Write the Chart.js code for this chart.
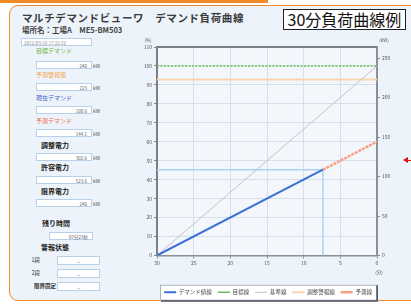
<!DOCTYPE html>
<html>
<head>
<meta charset="utf-8">
<script src="https://cdn.jsdelivr.net/npm/chart.js@4.4.1/dist/chart.umd.min.js"></script>
<style>
  body { margin: 0; width: 411px; height: 305px; overflow: hidden; background: #fff; position: relative;
         font-family: "Noto Sans CJK JP", sans-serif; }
  .abs { position: absolute; line-height: 1; white-space: nowrap; }
  #topbar { left: 0; top: 0; width: 268px; height: 3px; background: #f08a24; }
  #frame { left: 9px; top: 5px; width: 430px; height: 294px; border: 1.5px solid #f08a24; border-radius: 9px; background: #edf3fa; }
  .box { position: absolute; background: #fff; border: 1px solid #b9d0ea; box-sizing: border-box; font-size: 4.5px; color: #555; line-height: 1; }
  #sample { left: 283px; top: 9px; width: 123px; height: 21px; border: 1px solid #222; background: #fff; box-sizing: border-box;
            font-size: 16px; line-height: 19px; text-align: center; color: #111; }
  #wrap { position: absolute; left: 136px; top: 34px; width: 264px; height: 271px; }
</style>
</head>
<body>
<div id="topbar" class="abs"></div>
<div id="frame" class="abs"></div>
<div class="abs" style="left:22px;top:13px;font-size:10.5px;font-weight:bold;color:#3b3b3b;letter-spacing:0.6px;">マルチデマンドビューワ　デマンド負荷曲線</div>
<div class="abs" style="left:22px;top:26px;font-size:7.5px;font-weight:bold;color:#444;">場所名：工場A　ME5-BM503</div>
<div id="sample" class="abs">30分負荷曲線例</div>
<div class="abs" style="left:403px;top:157px;width:0;height:0;border-right:5px solid #e01010;border-top:3px solid transparent;border-bottom:3px solid transparent;"></div>
<div class="abs" style="left:407px;top:159.5px;width:4px;height:1.2px;background:#e01010;"></div>
<div id="panel"></div>
<div id="wrap"><canvas id="chart"></canvas></div>
<script>
// demand values (kW) and time (minutes elapsed in the 30 min window)
const targetKW = 240;
const alarmKW = 223;
const currentKW = 108.6;
const forecastKW = 144.1;
const elapsedMin = [0, 22.62];
const demandKW = [0, currentKW];
const forecastMin = [22.62, 30];
const forecastLine = [currentKW, forecastKW];
const baseMin = [0, 30];
const baseKW = [0, targetKW];
const seriesNames = ["デマンド値線", "目標線", "基準線", "調整警報線", "予測線"];

// left panel texts
const panelLabels = ["目標デマンド", "予測警報値", "現在デマンド", "予測デマンド", "調整電力", "許容電力", "限界電力"];
const panelValues = ["240", "223", "108.6", "144.1", "302.6", "523.6", "240"];
const panelColors = ["#5fb332", "#f2a548", "#3c62c8", "#f2684a", "#222", "#222", "#222"];
const labelTops = [48, 72, 95, 118, 142, 164, 188];
const boxTops = [61, 83, 106, 129, 153, 176, 199];
const remainText = "07分23秒";
const stageLabels = ["1段", "2段", "限界固定"];

const panel = document.getElementById("panel");
let html = '<div class="box" style="left:21px;top:38px;width:71px;height:8px;padding:1.5px 2px;color:#888;">2012/03/16 17:22:22</div>';
panelLabels.forEach((lab, i) => {
  const bold = i >= 4;
  html += `<div class="abs" style="left:${bold ? 41 : 36}px;top:${labelTops[i]}px;font-size:${bold ? 7 : 6}px;${bold ? "font-weight:bold;" : ""}color:${panelColors[i]};">${lab}</div>`;
  html += `<div class="box" style="left:36px;top:${boxTops[i]}px;width:56px;height:8px;text-align:right;padding:1.8px 4px 0 0;">${panelValues[i]}</div>`;
  html += `<div class="abs" style="left:93px;top:${boxTops[i] + 1.5}px;font-size:5px;color:#555;">kW</div>`;
});
html += '<div class="abs" style="left:42px;top:220px;font-size:7px;font-weight:bold;color:#222;">残り時間</div>';
html += `<div class="box" style="left:49px;top:232px;width:44px;height:8px;text-align:right;padding:1.8px 4px 0 0;">${remainText}</div>`;
html += '<div class="abs" style="left:41px;top:244px;font-size:7px;font-weight:bold;color:#222;">警報状態</div>';
[256, 269, 282].forEach((t, i) => {
  const w = i === 2 ? 34 : 10;
  html += `<div class="abs" style="left:${(i === 2 ? 22 : 30)}px;width:${w}px;text-align:right;top:${t + 1.5}px;font-size:5.5px;color:#333;${i === 2 ? "font-weight:bold;" : ""}">${stageLabels[i]}</div>`;
  html += `<div class="box" style="left:57px;top:${t}px;width:43px;height:9px;text-align:center;padding-top:2px;font-size:5px;">--</div>`;
});
panel.innerHTML = html;

const toXY = (xs, ys) => xs.map((x, i) => ({ x: x, y: ys[i] }));

const framePlugin = {
  id: "frame",
  beforeDraw(chart) {
    const { ctx, chartArea: a, legend } = chart;
    ctx.save();
    ctx.fillStyle = "#f3f7fc";
    ctx.fillRect(a.left, a.top, a.right - a.left, a.bottom - a.top);
    // legend box
    const cy = legend.top + 6 + 2.75;
    const lx = a.left + 3, rx = a.right - 1;
    ctx.fillStyle = "#fff";
    ctx.fillRect(lx, cy - 7.5, rx - lx, 15);
    ctx.strokeStyle = "#a9b4c2";
    ctx.lineWidth = 1;
    ctx.strokeRect(lx + 0.5, cy - 7.5 + 0.5, rx - lx, 15);
    ctx.strokeStyle = "#4a5260";
    ctx.lineWidth = 1.5;
    ctx.beginPath();
    ctx.moveTo(rx + 1.2, cy - 7);
    ctx.lineTo(rx + 1.2, cy + 8.7);
    ctx.lineTo(lx + 1, cy + 8.7);
    ctx.stroke();
    ctx.restore();
  },
  afterDraw(chart) {
    const { ctx, chartArea: a } = chart;
    ctx.save();
    ctx.strokeStyle = "#7a7f88";
    ctx.lineWidth = 2;
    ctx.beginPath();
    ctx.moveTo(a.left - 1, a.top);
    ctx.lineTo(a.right, a.top);
    ctx.stroke();
    ctx.fillStyle = "#555";
    ctx.font = "4.5px 'Noto Sans CJK JP'";
    ctx.textAlign = "center";
    ctx.textBaseline = "middle";
    ctx.fillText("(%)", a.left - 9, a.top - 7);
    ctx.fillText("(kW)", a.right + 7, a.top - 7);
    ctx.fillText("(分)", a.right + 2, a.bottom + 17);
    ctx.restore();
  }
};

const tickFont = { size: 5, family: "'Noto Sans CJK JP'" };
const line = (label, xs, ys, color, width, dash) => ({
  label: label, data: toXY(xs, ys), yAxisID: "kw",
  borderColor: color, backgroundColor: color, borderWidth: width, borderDash: dash || []
});

new Chart(document.getElementById("chart"), {
  type: "line",
  data: {
    datasets: [
      line(seriesNames[0], elapsedMin, demandKW, "#3b6fd6", 2),
      line(seriesNames[1], baseMin, [targetKW, targetKW], "#69be4e", 1.5, [2, 1.5]),
      line(seriesNames[2], baseMin, baseKW, "#bfc3ca", 1),
      line(seriesNames[3], baseMin, [alarmKW, alarmKW], "#f9d5ab", 2),
      line(seriesNames[4], forecastMin, forecastLine, "#f5a080", 2.5, [3, 1]),
      line("", [0, elapsedMin[1]], [currentKW, currentKW], "#a6d4f2", 1.5),
      line("", [elapsedMin[1], elapsedMin[1]], [0, currentKW], "#a6d4f2", 1.5)
    ]
  },
  options: {
    responsive: true,
    maintainAspectRatio: false,
    animation: false,
    elements: { point: { radius: 0 }, line: { tension: 0, fill: false } },
    layout: { padding: { top: 13, left: 0, right: 0, bottom: 0 } },
    plugins: {
      tooltip: { enabled: false },
      legend: {
        position: "bottom",
        labels: {
          usePointStyle: true,
          pointStyle: "line",
          pointStyleWidth: 12,
          padding: 6,
          color: "#444",
          font: { size: 5.5, family: "'Noto Sans CJK JP'" },
          filter: (item) => item.text !== ""
        }
      }
    },
    scales: {
      x: {
        type: "linear",
        min: 0, max: 30,
        ticks: { stepSize: 5, font: tickFont, color: "#555", padding: 2, callback: (v) => String(30 - v) },
        grid: { color: "#d5e0ec", tickLength: 3, tickColor: "#888" },
        border: { color: "#8a8f98", width: 1.5 },
        afterFit: (s) => { s.height = 28; }
      },
      pct: {
        type: "linear",
        position: "left",
        min: 0, max: 110,
        ticks: { stepSize: 10, font: tickFont, color: "#555", padding: 2 },
        grid: { color: "#d5e0ec", tickLength: 3, tickColor: "#888" },
        border: { color: "#7a7f88", width: 2 },
        afterFit: (s) => { s.width = 21; }
      },
      kw: {
        type: "linear",
        position: "right",
        min: 0, max: 264,
        ticks: { stepSize: 50, font: tickFont, color: "#555", padding: 2 },
        afterBuildTicks: (s) => { s.ticks = s.ticks.filter((t) => t.value <= 250); },
        grid: { drawOnChartArea: false, tickLength: 3, tickColor: "#888" },
        border: { color: "#8a8f98", width: 2 },
        afterFit: (s) => { s.width = 23; }
      }
    }
  },
  plugins: [framePlugin]
});
</script>
</body>
</html>
